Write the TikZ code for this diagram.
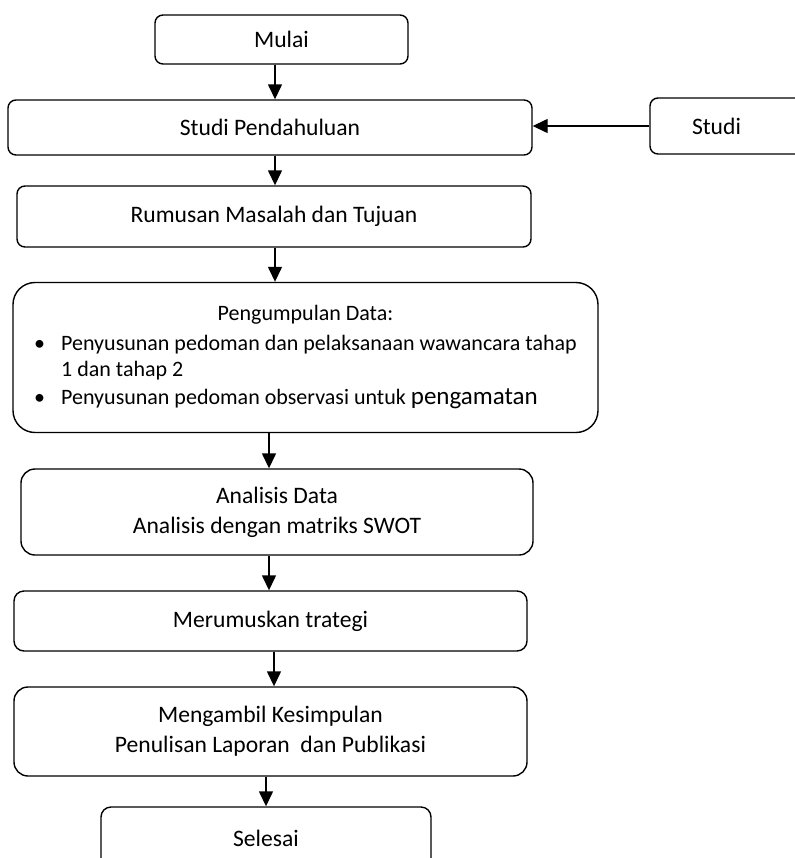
\documentclass[tikz,border=0pt]{standalone}
\usepackage{fontspec}
\setmainfont{Carlito}
\usetikzlibrary{arrows.meta}
\tikzset{
  font=\fontsize{11.8}{15}\selectfont,
  box/.style={
    draw,
    line width=0.7pt,
    rounded corners=4pt,
    align=center,
    inner sep=0pt
  },
  arrow/.style={-{Triangle[width=7pt,length=7.5pt]}, line width=0.7pt}
}
\newcommand{\bul}{\makebox[13.5pt][l]{\textbullet}}
\newcommand{\bulsp}{\hspace*{13.5pt}}

\begin{document}
\begin{tikzpicture}[x=0.5pt, y=-0.5pt]
\useasboundingbox (0,0) rectangle (795,858);

\node[box, minimum width=126.5pt, minimum height=24.5pt] (mulai) at (281.5,39.5) {Mulai};
\node[box, minimum width=262pt, minimum height=27.5pt] (pendahuluan) at (270,127.5) {Studi Pendahuluan};
\node[box, minimum width=82.5pt, minimum height=28pt, text width=40.5pt, align=left] (studi) at (732.5,126) {Studi};
\node[box, minimum width=257pt, minimum height=30.5pt] (rumusan) at (274,216.5) {Rumusan Masalah dan Tujuan};

% data collection box
\node[box, rounded corners=11pt, minimum width=292.5pt, minimum height=75pt] (pengumpulan) at (305.5,357.5) {%
  \fontsize{11}{13}\selectfont
  \begin{tabular}{@{}l@{}}
  \multicolumn{1}{@{}c@{}}{Pengumpulan Data:}\\[2pt]
  \bul Penyusunan pedoman dan pelaksanaan wawancara tahap\\
  \bulsp 1 dan tahap 2\\[1pt]
  \bul Penyusunan pedoman observasi untuk {\fontsize{12.5}{13}\selectfont pengamatan}
  \end{tabular}};

\node[box, rounded corners=7pt, minimum width=256pt, minimum height=43pt] (analisis) at (277,512) {Analisis Data\\Analisis dengan matriks SWOT};
\node[box, rounded corners=5pt, minimum width=256.5pt, minimum height=30pt] (strategi) at (270.5,621) {Merumuskan trategi};
\node[box, rounded corners=7pt, minimum width=256.5pt, minimum height=44.5pt] (kesimpulan) at (270.5,731.5) {Mengambil Kesimpulan\\Penulisan Laporan~ dan Publikasi};
\node[box, rounded corners=5pt, minimum width=165pt, minimum height=31pt] (selesai) at (266,838) {Selesai};

% main flow
\draw[arrow] (mulai.south -| 275,0) -- (pendahuluan.north -| 275,0);
\draw[arrow] (pendahuluan.south -| 275,0) -- (rumusan.north -| 275,0);
\draw[arrow] (rumusan.south -| 275,0) -- (pengumpulan.north -| 275,0);
\draw[arrow] (pengumpulan.south -| 269,0) -- (analisis.north -| 269,0);
\draw[arrow] (analisis.south -| 269,0) -- (strategi.north -| 269,0);
\draw[arrow] (strategi.south -| 274,0) -- (kesimpulan.north -| 274,0);
\draw[arrow] (kesimpulan.south -| 266,0) -- (selesai.north -| 266,0);

% side input
\draw[arrow] (studi.west) -- (studi.west -| pendahuluan.east);

\end{tikzpicture}
\end{document}
